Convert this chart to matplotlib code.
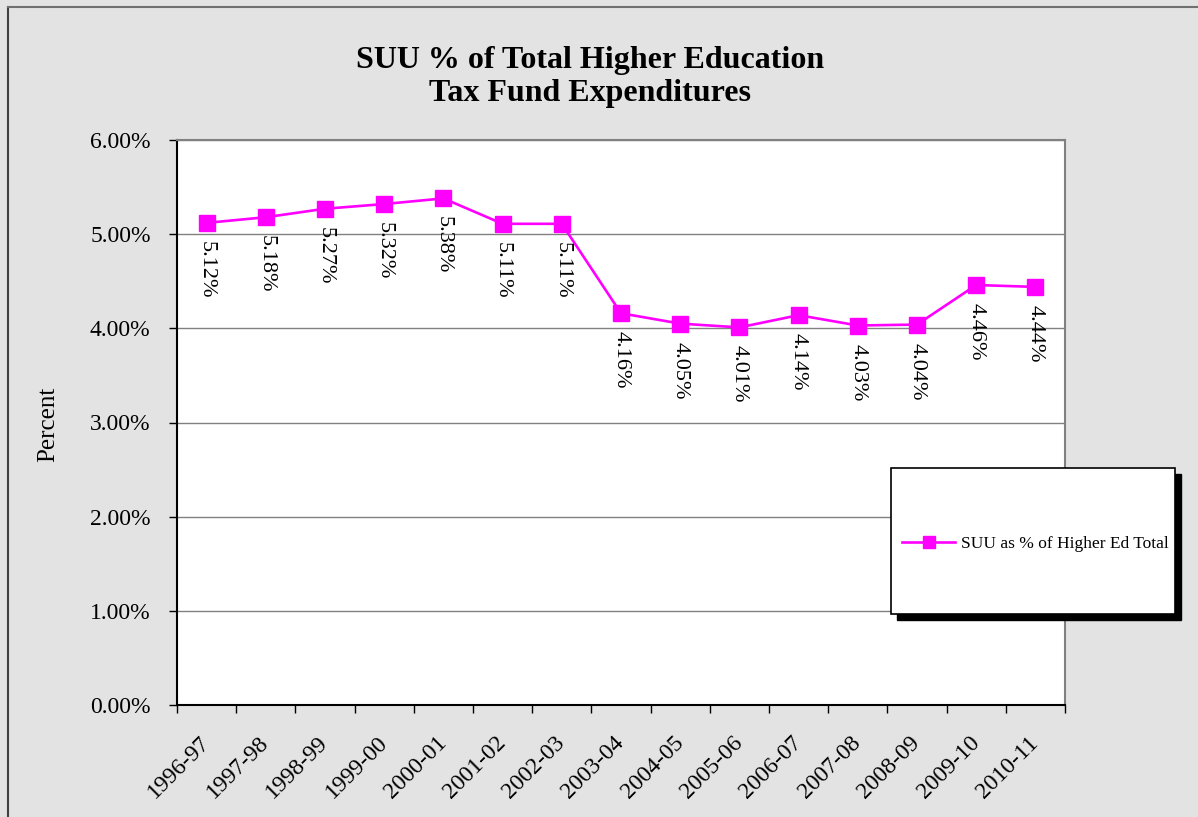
#!/usr/bin/python3

# SUU share of total higher education tax fund expenditures
# --------------------------------------------------------------------
# Line chart with data labels, Excel style layout
# --------------------------------------------------------------------


# --------------------------------------------------------------------
# PACKAGE HANDLING
# --------------------------------------------------------------------

import matplotlib
matplotlib.use('Agg')
import matplotlib.pyplot as plt
from matplotlib.patches import Rectangle
from matplotlib.lines import Line2D
from matplotlib.ticker import FixedLocator, FuncFormatter


# --------------------------------------------------------------------
# DATA HANDLING
# --------------------------------------------------------------------

years = ['1996-97', '1997-98', '1998-99', '1999-00', '2000-01',
         '2001-02', '2002-03', '2003-04', '2004-05', '2005-06',
         '2006-07', '2007-08', '2008-09', '2009-10', '2010-11']

suu_pct = [5.12, 5.18, 5.27, 5.32, 5.38, 5.11, 5.11, 4.16,
           4.05, 4.01, 4.14, 4.03, 4.04, 4.46, 4.44]

y_ticks = [0, 1, 2, 3, 4, 5, 6]


# --------------------------------------------------------------------
# PLOT THE DATA
# --------------------------------------------------------------------

plt.rcParams['font.family'] = ['Liberation Serif', 'DejaVu Serif']

W, H = 1198, 817
fig = plt.figure(figsize=(W / 100, H / 100), dpi=100)
fig.patch.set_facecolor('#e3e3e3')

# outer chart frame (left and top visible)
fig.add_artist(Line2D([8 / W, 8 / W], [0, 1 - 7 / H], color='#404040',
                      lw=1.5, transform=fig.transFigure))
fig.add_artist(Line2D([8 / W, 1], [1 - 7 / H, 1 - 7 / H], color='#707070',
                      lw=1.5, transform=fig.transFigure))

ax = fig.add_axes([177 / W, 1 - 705 / H, (1065 - 177) / W, (705 - 140) / H])
ax.set_facecolor('white')

x = list(range(len(years)))
ax.plot(x, suu_pct, color='#ff00ff', lw=1.9, marker='s', markersize=11,
        label='SUU as % of Higher Ed Total')

# data labels, rotated, under each point
for xi, v in zip(x, suu_pct):
    ax.annotate('%.2f%%' % v, (xi, v), xytext=(0, -13),
                textcoords='offset points', rotation=270,
                ha='center', va='top', fontsize=16)

ax.set_xlim(-0.5, len(years) - 0.5)
ax.set_ylim(0, 6)

ax.set_yticks(y_ticks)
ax.yaxis.set_major_formatter(FuncFormatter(lambda v, p: '%.2f%%' % v))
ax.yaxis.grid(True, color='#808080', lw=1)
ax.set_axisbelow(True)
ax.tick_params(axis='y', direction='out', length=6, width=1, pad=13,
               labelsize=17, color='black')

# category labels at centers, tick marks at category edges
ax.set_xticks(x)
ax.set_xticklabels(years, rotation=45, ha='right', va='center',
                   rotation_mode='anchor', fontsize=17)
ax.xaxis.set_minor_locator(FixedLocator([i - 0.5 for i in range(len(years) + 1)]))
ax.tick_params(axis='x', which='major', length=0, pad=25)
ax.tick_params(axis='x', which='minor', direction='out', length=6, width=1,
               color='black')

for side in ['top', 'right']:
    ax.spines[side].set_color('#808080')
    ax.spines[side].set_linewidth(1.5)
for side in ['left', 'bottom']:
    ax.spines[side].set_color('black')
    ax.spines[side].set_linewidth(1.5)

# title and axis label
fig.text(590 / W, 1 - 77 / H, 'SUU % of Total Higher Education\nTax Fund Expenditures',
         ha='center', va='center', fontsize=23, fontweight='bold', linespacing=1.2)
fig.text(48 / W, 1 - 424 / H, 'Percent', rotation=90, ha='center', va='center',
         fontsize=18)

# legend box with shadow
bx, by, bw, bh = 891, 468, 284, 146
fig.add_artist(Rectangle(((bx + 6) / W, 1 - (by + bh + 6) / H), bw / W, bh / H,
                         transform=fig.transFigure, facecolor='black',
                         edgecolor='black', zorder=3))
fig.add_artist(Rectangle((bx / W, 1 - (by + bh) / H), bw / W, bh / H,
                         transform=fig.transFigure, facecolor='white',
                         edgecolor='black', lw=1.2, zorder=4))
handles, labels = ax.get_legend_handles_labels()
leg = fig.legend(handles, labels, loc='center',
                 bbox_to_anchor=((bx + bw / 2 + 2) / W, 1 - (by + bh / 2 + 3) / H),
                 frameon=False, fontsize=12.5, handlelength=3.1,
                 handletextpad=0.3, markerscale=0.75)
leg.set_zorder(5)

plt.savefig('out.png', dpi=100, facecolor=fig.get_facecolor())
